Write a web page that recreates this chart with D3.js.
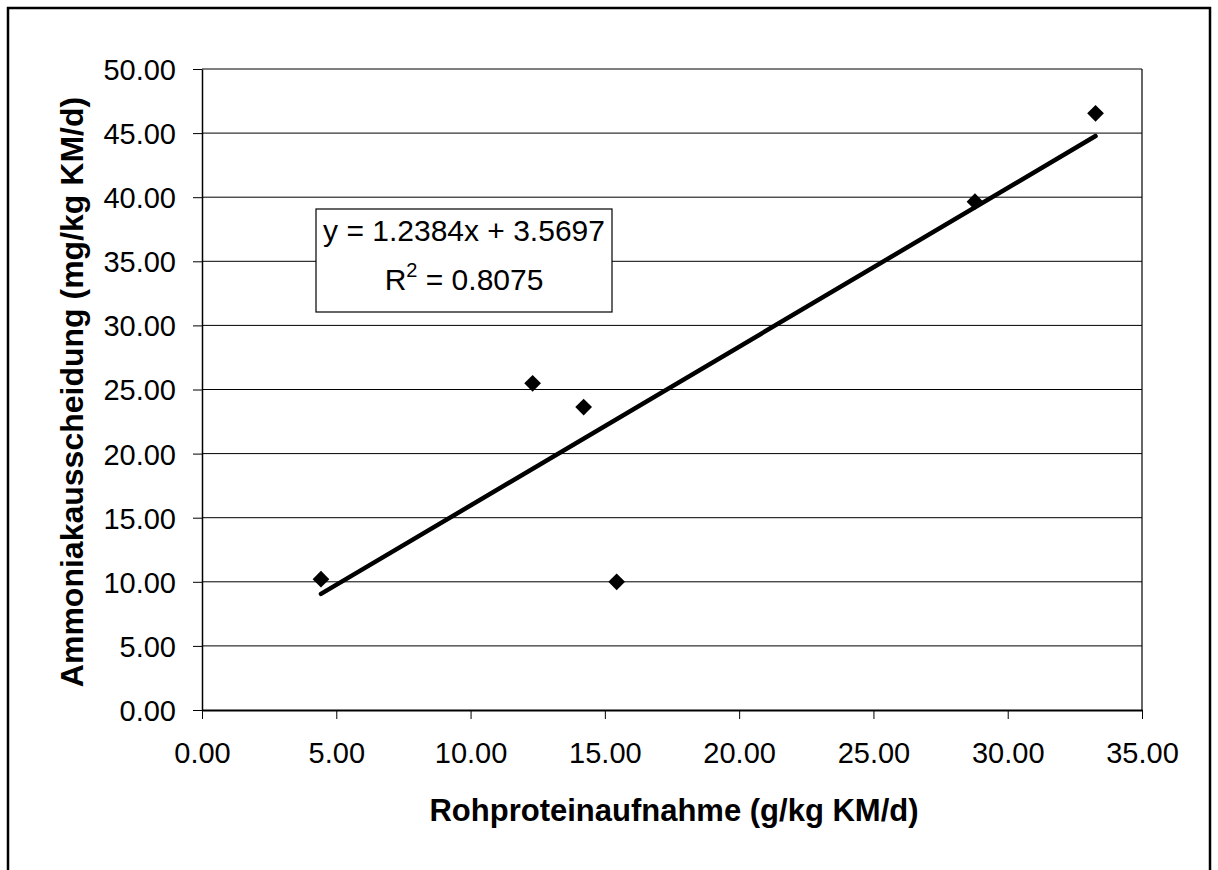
<!DOCTYPE html>
<html>
<head>
<meta charset="utf-8">
<script src="https://cdn.jsdelivr.net/npm/d3@7"></script>
<style>
  body { margin: 0; background: #fff; }
  svg { display: block; }
  text { font-family: "Liberation Sans", Arial, sans-serif; fill: #000; }
</style>
</head>
<body>
<svg id="chart" width="1218" height="870"></svg>
<script>
// values
const proteinIntake = [4.43, 12.31, 14.21, 15.44, 28.78, 33.27]   // g/kg KM/d
const ammoniaExcretion = [10.2, 25.48, 23.63, 10.0, 39.65, 46.54] // mg/kg KM/d
const xTicks = [0, 5, 10, 15, 20, 25, 30, 35]
const yTicks = [0, 5, 10, 15, 20, 25, 30, 35, 40, 45, 50]
const trendSlope = 1.2384
const trendIntercept = 3.5697
const equationText = 'y = 1.2384x + 3.5697'
const rSquaredText = '0.8075'

const svg = d3.select('#chart')

// outer chart frame (bottom edge runs off the picture)
svg.append('rect')
    .attr('x', 8).attr('y', 8)
    .attr('width', 1202).attr('height', 900)
    .attr('fill', 'none').attr('stroke', '#000').attr('stroke-width', 2.5)

const x = d3.scaleLinear().domain([0, 35]).range([202, 1142])
const y = d3.scaleLinear().domain([0, 50]).range([710, 69])
const fmt = d3.format('.2f')

// horizontal gridlines
svg.append('g')
    .selectAll('line')
    .data(yTicks.filter(d => d > 0))
    .join('line')
    .attr('x1', x(0)).attr('x2', x(35))
    .attr('y1', d => y(d)).attr('y2', d => y(d))
    .attr('stroke', '#000').attr('stroke-width', 1)

// right edge of plot area
svg.append('line')
    .attr('x1', x(35)).attr('x2', x(35))
    .attr('y1', y(50)).attr('y2', y(0))
    .attr('stroke', '#000').attr('stroke-width', 1.2)

const xAxis = svg.append('g')
    .attr('transform', `translate(0,${y(0)})`)
    .call(d3.axisBottom(x).tickValues(xTicks).tickFormat(fmt).tickSize(9).tickSizeOuter(0))
xAxis.select('.domain').attr('stroke-width', 2)
xAxis.selectAll('.tick line').attr('stroke-width', 1)
xAxis.selectAll('.tick text')
    .attr('y', 53).attr('dy', 0)
    .style('font-size', '29px')

const yAxis = svg.append('g')
    .attr('transform', `translate(${x(0)},0)`)
    .call(d3.axisLeft(y).tickValues(yTicks).tickFormat(fmt).tickSize(9).tickSizeOuter(0))
yAxis.select('.domain').attr('stroke-width', 1.5)
yAxis.selectAll('.tick line').attr('stroke-width', 1)
yAxis.selectAll('.tick text')
    .attr('x', -26).attr('dy', '0.36em')
    .style('font-size', '29px')

svg.selectAll('.tick text').attr('font-family', null)

// axis titles
svg.append('text')
    .attr('x', 674).attr('y', 821)
    .attr('text-anchor', 'middle')
    .style('font-size', '31px').style('font-weight', 'bold')
    .text('Rohproteinaufnahme (g/kg KM/d)')

svg.append('text')
    .attr('transform', 'translate(83,392) rotate(-90)')
    .attr('text-anchor', 'middle')
    .style('font-size', '32px').style('font-weight', 'bold')
    .text('Ammoniakausscheidung (mg/kg KM/d)')

// linear trendline over the data range
const xMin = d3.min(proteinIntake), xMax = d3.max(proteinIntake)
svg.append('line')
    .attr('x1', x(xMin)).attr('y1', y(trendSlope * xMin + trendIntercept))
    .attr('x2', x(xMax)).attr('y2', y(trendSlope * xMax + trendIntercept))
    .attr('stroke', '#000').attr('stroke-width', 4.5).attr('stroke-linecap', 'round')

// diamond markers
const points = proteinIntake.map((v, i) => ({ x: v, y: ammoniaExcretion[i] }))
svg.append('g')
    .selectAll('path')
    .data(points)
    .join('path')
    .attr('d', d3.symbol().type(d3.symbolSquare).size(140))
    .attr('transform', d => `translate(${x(d.x)},${y(d.y)}) rotate(45)`)
    .attr('fill', '#000')

// equation box
const box = svg.append('g')
box.append('rect')
    .attr('x', 316).attr('y', 209)
    .attr('width', 296).attr('height', 103)
    .attr('fill', '#fff').attr('stroke', '#000').attr('stroke-width', 1.2)
box.append('text')
    .attr('x', 464).attr('y', 241)
    .attr('text-anchor', 'middle')
    .style('font-size', '30px')
    .text(equationText)
const r2 = box.append('text')
    .attr('x', 464).attr('y', 290)
    .attr('text-anchor', 'middle')
    .style('font-size', '30px')
r2.append('tspan').text('R')
r2.append('tspan').attr('dy', -13).style('font-size', '20px').text('2')
r2.append('tspan').attr('dy', 13).text(' = ' + rSquaredText)
</script>
</body>
</html>
